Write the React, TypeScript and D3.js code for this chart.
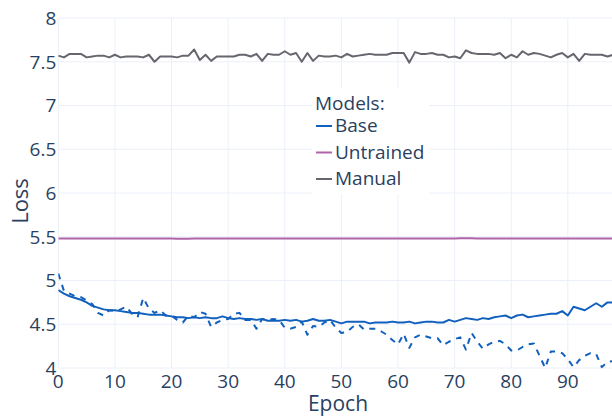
import React from "react";
import * as d3 from "d3";

const epochs: number[] = Array.from({ length: 99 }, (_, i) => i);

const baseTrain: number[] = [
  4.89, 4.85, 4.82, 4.8, 4.78, 4.75, 4.71, 4.69, 4.67, 4.66,
  4.66, 4.65, 4.64, 4.63, 4.63, 4.62, 4.61, 4.61, 4.61, 4.6,
  4.59, 4.58, 4.58, 4.57, 4.58, 4.57, 4.58, 4.57, 4.57, 4.59,
  4.57, 4.56, 4.57, 4.56, 4.56, 4.55, 4.56, 4.54, 4.54, 4.54,
  4.55, 4.54, 4.55, 4.53, 4.54, 4.56, 4.54, 4.54, 4.55, 4.53,
  4.51, 4.53, 4.53, 4.53, 4.53, 4.51, 4.52, 4.52, 4.52, 4.53,
  4.52, 4.52, 4.53, 4.51, 4.52, 4.53, 4.53, 4.52, 4.52, 4.55,
  4.53, 4.55, 4.57, 4.56, 4.55, 4.57, 4.56, 4.58, 4.59, 4.6,
  4.57, 4.6, 4.61, 4.58, 4.59, 4.6, 4.61, 4.62, 4.62, 4.65,
  4.6, 4.7, 4.68, 4.66, 4.7, 4.74, 4.7, 4.75, 4.75,
];

const baseVal: number[] = [
  5.08, 4.88, 4.85, 4.82, 4.81, 4.77, 4.73, 4.63, 4.6, 4.66,
  4.65, 4.67, 4.7, 4.62, 4.58, 4.8, 4.68, 4.63, 4.66, 4.6,
  4.6, 4.55, 4.52, 4.6, 4.58, 4.64, 4.62, 4.47, 4.52, 4.55,
  4.56, 4.62, 4.63, 4.55, 4.55, 4.45, 4.56, 4.55, 4.56, 4.55,
  4.46, 4.45, 4.47, 4.53, 4.38, 4.48, 4.47, 4.52, 4.55, 4.46,
  4.4, 4.41, 4.47, 4.5, 4.44, 4.45, 4.45, 4.42, 4.38, 4.32,
  4.27, 4.39, 4.23, 4.35, 4.38, 4.36, 4.34, 4.34, 4.26, 4.3,
  4.33, 4.35, 4.21, 4.4, 4.3, 4.22, 4.27, 4.3, 4.31, 4.27,
  4.2, 4.2, 4.24, 4.27, 4.28, 4.14, 4.0, 4.19, 4.19, 4.17,
  4.1, 4.01, 4.09, 4.14, 4.17, 4.16, 4.01, 4.07, 4.08,
];

const untrained: number[] = [
  5.48, 5.48, 5.48, 5.48, 5.48, 5.48, 5.48, 5.48, 5.48, 5.48,
  5.48, 5.48, 5.48, 5.48, 5.48, 5.48, 5.48, 5.48, 5.48, 5.48,
  5.48, 5.478, 5.476, 5.478, 5.48, 5.48, 5.48, 5.48, 5.48, 5.48,
  5.48, 5.48, 5.48, 5.48, 5.48, 5.48, 5.48, 5.48, 5.48, 5.48,
  5.48, 5.48, 5.48, 5.48, 5.48, 5.48, 5.48, 5.48, 5.48, 5.48,
  5.48, 5.48, 5.48, 5.48, 5.48, 5.48, 5.48, 5.48, 5.48, 5.48,
  5.48, 5.48, 5.48, 5.48, 5.48, 5.48, 5.48, 5.48, 5.48, 5.48,
  5.48, 5.482, 5.484, 5.482, 5.48, 5.48, 5.48, 5.48, 5.48, 5.48,
  5.48, 5.48, 5.48, 5.48, 5.48, 5.48, 5.48, 5.48, 5.48, 5.48,
  5.481, 5.481, 5.48, 5.48, 5.48, 5.48, 5.48, 5.48, 5.48,
];

const manual: number[] = [
  7.57, 7.55, 7.59, 7.59, 7.59, 7.55, 7.56, 7.57, 7.57, 7.55,
  7.58, 7.55, 7.56, 7.56, 7.56, 7.55, 7.58, 7.5, 7.56, 7.56,
  7.56, 7.55, 7.57, 7.57, 7.64, 7.52, 7.58, 7.51, 7.56, 7.56,
  7.56, 7.56, 7.58, 7.58, 7.56, 7.59, 7.51, 7.59, 7.58, 7.58,
  7.62, 7.58, 7.6, 7.5, 7.6, 7.51, 7.57, 7.56, 7.56, 7.57,
  7.55, 7.59, 7.56, 7.57, 7.58, 7.59, 7.58, 7.58, 7.58, 7.6,
  7.6, 7.6, 7.49, 7.61, 7.59, 7.59, 7.6, 7.58, 7.58, 7.55,
  7.56, 7.54, 7.63, 7.6, 7.59, 7.59, 7.59, 7.58, 7.6, 7.54,
  7.58, 7.55, 7.62, 7.58, 7.6, 7.59, 7.57, 7.55, 7.58, 7.6,
  7.55, 7.59, 7.51, 7.59, 7.58, 7.58, 7.58, 7.56, 7.58,
];

const xTicks: number[] = [0, 10, 20, 30, 40, 50, 60, 70, 80, 90];
const yTicks: number[] = [4, 4.5, 5, 5.5, 6, 6.5, 7, 7.5, 8];
const legendItems: string[] = ["Base", "Untrained", "Manual"];

const COLORS: Record<string, string> = {
  Base: "#1260bd",
  Untrained: "#b063a9",
  Manual: "#67666f",
};

const W = 612;
const H = 417;
const M = { left: 58.3, right: 612, top: 18, bottom: 368 };
const FONT = "'Open Sans', sans-serif";
const TEXT = "#2a3f5f";

export default function App() {
  const x = d3.scaleLinear().domain([0, 97.8]).range([M.left, M.right]);
  const y = d3.scaleLinear().domain([4, 8]).range([M.bottom, M.top]);

  const mk = (vals: number[]) =>
    d3
      .line<number>()
      .x((_, i) => x(epochs[i]))
      .y((v) => y(v))(vals) || "";

  const series = [
    { name: "Untrained", vals: untrained, dash: undefined as string | undefined },
    { name: "Manual", vals: manual, dash: undefined },
    { name: "Base", vals: baseTrain, dash: undefined },
    { name: "Base", vals: baseVal, dash: "6,6" },
  ];

  const legX = 315;
  const legY0 = 110;

  return (
    <svg
      width={W}
      height={H}
      style={{ position: "fixed", left: 0, top: 0, background: "#fff" }}
      fontFamily={FONT}
    >
      <defs>
        <clipPath id="plotclip">
          <rect x={M.left} y={M.top - 2} width={M.right - M.left + 2} height={M.bottom - M.top + 4} />
        </clipPath>
      </defs>
      {xTicks.map((t) => (
        <line key={"gx" + t} x1={x(t)} x2={x(t)} y1={M.top} y2={M.bottom} stroke="#ebf0f8" strokeWidth={1} />
      ))}
      {yTicks.map((t) => (
        <line key={"gy" + t} x1={M.left} x2={M.right} y1={y(t)} y2={y(t)} stroke="#ebf0f8" strokeWidth={1} />
      ))}
      <g clipPath="url(#plotclip)">
        {series.map((s, i) => (
          <path
            key={i}
            d={mk(s.vals)}
            fill="none"
            stroke={COLORS[s.name]}
            strokeWidth={2}
            strokeDasharray={s.dash}
            strokeLinejoin="round"
          />
        ))}
      </g>
      {yTicks.map((t) => (
        <text key={"ty" + t} x={M.left - 2} y={y(t)} dy="0.36em" textAnchor="end" fontSize={19} fill={TEXT}>
          {String(t)}
        </text>
      ))}
      {xTicks.map((t) => (
        <text key={"tx" + t} x={x(t)} y={388} textAnchor="middle" fontSize={19} fill={TEXT}>
          {String(t)}
        </text>
      ))}
      <text x={338} y={411} textAnchor="middle" fontSize={21} fill={TEXT}>
        Epoch
      </text>
      <text
        transform={`translate(28,${(M.top + M.bottom) / 2 + 8}) rotate(-90)`}
        textAnchor="middle"
        fontSize={22}
        fill={TEXT}
      >
        Loss
      </text>
      <rect x={312} y={88} width={117} height={106} fill="#fff" />
      <text x={legX} y={legY0} fontSize={19} fill={TEXT}>
        Models:
      </text>
      {legendItems.map((n, i) => {
        const yy = legY0 + 22 + i * 26.5;
        return (
          <g key={n}>
            <line x1={legX + 1} x2={legX + 17} y1={yy - 6} y2={yy - 6} stroke={COLORS[n]} strokeWidth={2} />
            <text x={legX + 20} y={yy} fontSize={19} fill={TEXT}>
              {n}
            </text>
          </g>
        );
      })}
    </svg>
  );
}
